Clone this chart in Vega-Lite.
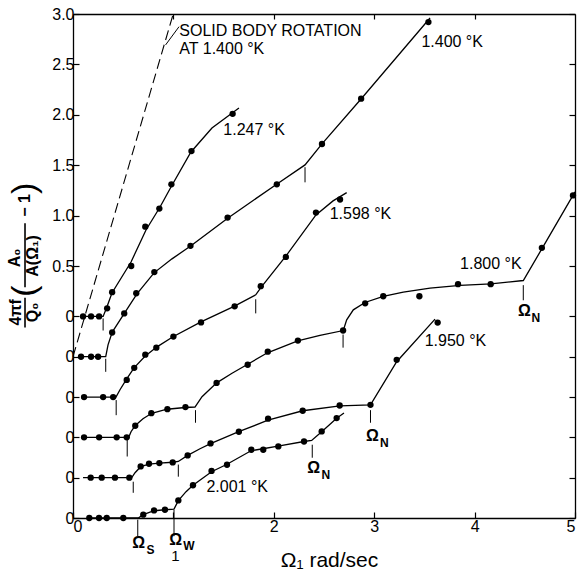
{
  "$schema": "https://vega.github.io/schema/vega-lite/v6.json",
  "width": 502,
  "height": 504,
  "autosize": {"type": "none"},
  "padding": {"left": 73, "top": 14, "right": 4, "bottom": 60},
  "background": "white",
  "config": {"view": {"stroke": null}, "font": "Liberation Sans"},
  "datasets": {
    "pts": [
      {"s": "1.247", "x": 0.10, "y": 2.0}, {"s": "1.247", "x": 0.18, "y": 2.0}, {"s": "1.247", "x": 0.26, "y": 2.0},
      {"s": "1.247", "x": 0.34, "y": 2.08}, {"s": "1.247", "x": 0.39, "y": 2.24}, {"s": "1.247", "x": 0.58, "y": 2.50},
      {"s": "1.247", "x": 0.72, "y": 2.89}, {"s": "1.247", "x": 0.86, "y": 3.07}, {"s": "1.247", "x": 0.98, "y": 3.31},
      {"s": "1.247", "x": 1.18, "y": 3.64}, {"s": "1.247", "x": 1.59, "y": 4.01},
      {"s": "1.400", "x": 0.08, "y": 1.6}, {"s": "1.400", "x": 0.18, "y": 1.6}, {"s": "1.400", "x": 0.25, "y": 1.6},
      {"s": "1.400", "x": 0.39, "y": 1.84}, {"s": "1.400", "x": 0.51, "y": 2.03}, {"s": "1.400", "x": 0.63, "y": 2.23},
      {"s": "1.400", "x": 0.81, "y": 2.44}, {"s": "1.400", "x": 1.17, "y": 2.70}, {"s": "1.400", "x": 1.54, "y": 2.98},
      {"s": "1.400", "x": 2.03, "y": 3.31}, {"s": "1.400", "x": 2.48, "y": 3.71}, {"s": "1.400", "x": 2.87, "y": 4.16},
      {"s": "1.400", "x": 3.54, "y": 4.92},
      {"s": "1.598", "x": 0.11, "y": 1.2}, {"s": "1.598", "x": 0.30, "y": 1.2}, {"s": "1.598", "x": 0.40, "y": 1.2},
      {"s": "1.598", "x": 0.535, "y": 1.37}, {"s": "1.598", "x": 0.61, "y": 1.49}, {"s": "1.598", "x": 0.72, "y": 1.62},
      {"s": "1.598", "x": 0.83, "y": 1.69}, {"s": "1.598", "x": 1.00, "y": 1.80}, {"s": "1.598", "x": 1.275, "y": 1.94},
      {"s": "1.598", "x": 1.61, "y": 2.10}, {"s": "1.598", "x": 1.87, "y": 2.30}, {"s": "1.598", "x": 2.12, "y": 2.59},
      {"s": "1.598", "x": 2.42, "y": 3.03}, {"s": "1.598", "x": 2.66, "y": 3.16},
      {"s": "1.800", "x": 0.11, "y": 0.8}, {"s": "1.800", "x": 0.26, "y": 0.8}, {"s": "1.800", "x": 0.435, "y": 0.8},
      {"s": "1.800", "x": 0.535, "y": 0.8}, {"s": "1.800", "x": 0.62, "y": 0.915}, {"s": "1.800", "x": 0.78, "y": 1.04},
      {"s": "1.800", "x": 0.94, "y": 1.08}, {"s": "1.800", "x": 1.12, "y": 1.10}, {"s": "1.800", "x": 1.43, "y": 1.34},
      {"s": "1.800", "x": 1.74, "y": 1.52}, {"s": "1.800", "x": 1.94, "y": 1.65}, {"s": "1.800", "x": 2.24, "y": 1.76},
      {"s": "1.800", "x": 2.69, "y": 1.86}, {"s": "1.800", "x": 2.91, "y": 2.13}, {"s": "1.800", "x": 3.09, "y": 2.20},
      {"s": "1.800", "x": 3.45, "y": 2.20}, {"s": "1.800", "x": 3.835, "y": 2.32}, {"s": "1.800", "x": 4.16, "y": 2.32},
      {"s": "1.800", "x": 4.67, "y": 2.68}, {"s": "1.800", "x": 4.98, "y": 3.20},
      {"s": "1.950", "x": 0.176, "y": 0.4}, {"s": "1.950", "x": 0.286, "y": 0.4}, {"s": "1.950", "x": 0.418, "y": 0.4},
      {"s": "1.950", "x": 0.561, "y": 0.4}, {"s": "1.950", "x": 0.674, "y": 0.512}, {"s": "1.950", "x": 0.757, "y": 0.538},
      {"s": "1.950", "x": 0.86, "y": 0.545}, {"s": "1.950", "x": 0.993, "y": 0.551}, {"s": "1.950", "x": 1.142, "y": 0.621},
      {"s": "1.950", "x": 1.37, "y": 0.74}, {"s": "1.950", "x": 1.652, "y": 0.856}, {"s": "1.950", "x": 1.943, "y": 0.985},
      {"s": "1.950", "x": 2.288, "y": 1.064}, {"s": "1.950", "x": 2.656, "y": 1.116}, {"s": "1.950", "x": 2.963, "y": 1.123},
      {"s": "1.950", "x": 3.224, "y": 1.569}, {"s": "1.950", "x": 3.632, "y": 1.939},
      {"s": "2.001", "x": 0.162, "y": 0}, {"s": "2.001", "x": 0.259, "y": 0}, {"s": "2.001", "x": 0.336, "y": 0},
      {"s": "2.001", "x": 0.501, "y": 0}, {"s": "2.001", "x": 0.70, "y": 0.033}, {"s": "2.001", "x": 0.807, "y": 0.075},
      {"s": "2.001", "x": 0.916, "y": 0.082}, {"s": "2.001", "x": 1.049, "y": 0.174}, {"s": "2.001", "x": 1.195, "y": 0.325},
      {"s": "2.001", "x": 1.38, "y": 0.467}, {"s": "2.001", "x": 1.534, "y": 0.528}, {"s": "2.001", "x": 1.776, "y": 0.677},
      {"s": "2.001", "x": 1.895, "y": 0.677}, {"s": "2.001", "x": 2.045, "y": 0.71}, {"s": "2.001", "x": 2.301, "y": 0.759},
      {"s": "2.001", "x": 2.477, "y": 0.859}, {"s": "2.001", "x": 2.626, "y": 0.991}
    ],
    "curves": [
      {"s": "1.247", "x": 0.10, "y": 2.0}, {"s": "1.247", "x": 0.30, "y": 2.0}, {"s": "1.247", "x": 0.334, "y": 2.083},
      {"s": "1.247", "x": 0.388, "y": 2.232}, {"s": "1.247", "x": 0.578, "y": 2.54}, {"s": "1.247", "x": 0.727, "y": 2.857},
      {"s": "1.247", "x": 0.867, "y": 3.085}, {"s": "1.247", "x": 0.976, "y": 3.284}, {"s": "1.247", "x": 1.175, "y": 3.631},
      {"s": "1.247", "x": 1.384, "y": 3.869}, {"s": "1.247", "x": 1.653, "y": 4.067},
      {"s": "1.400", "x": 0.08, "y": 1.6}, {"s": "1.400", "x": 0.326, "y": 1.6}, {"s": "1.400", "x": 0.349, "y": 1.718},
      {"s": "1.400", "x": 0.391, "y": 1.844}, {"s": "1.400", "x": 0.511, "y": 2.031}, {"s": "1.400", "x": 0.637, "y": 2.224},
      {"s": "1.400", "x": 0.807, "y": 2.432}, {"s": "1.400", "x": 0.986, "y": 2.571}, {"s": "1.400", "x": 1.175, "y": 2.70},
      {"s": "1.400", "x": 1.544, "y": 2.977}, {"s": "1.400", "x": 2.032, "y": 3.314}, {"s": "1.400", "x": 2.311, "y": 3.503},
      {"s": "1.400", "x": 2.48, "y": 3.711}, {"s": "1.400", "x": 2.869, "y": 4.157}, {"s": "1.400", "x": 3.556, "y": 4.96},
      {"s": "1.598", "x": 0.11, "y": 1.2}, {"s": "1.598", "x": 0.428, "y": 1.2}, {"s": "1.598", "x": 0.468, "y": 1.272},
      {"s": "1.598", "x": 0.535, "y": 1.381}, {"s": "1.598", "x": 0.608, "y": 1.49}, {"s": "1.598", "x": 0.717, "y": 1.604},
      {"s": "1.598", "x": 0.837, "y": 1.698}, {"s": "1.598", "x": 0.996, "y": 1.798}, {"s": "1.598", "x": 1.275, "y": 1.946},
      {"s": "1.598", "x": 1.604, "y": 2.10}, {"s": "1.598", "x": 1.82, "y": 2.214}, {"s": "1.598", "x": 1.873, "y": 2.288},
      {"s": "1.598", "x": 2.122, "y": 2.601}, {"s": "1.598", "x": 2.42, "y": 3.007}, {"s": "1.598", "x": 2.59, "y": 3.146},
      {"s": "1.598", "x": 2.726, "y": 3.228},
      {"s": "1.800", "x": 0.11, "y": 0.8}, {"s": "1.800", "x": 0.555, "y": 0.8}, {"s": "1.800", "x": 0.578, "y": 0.856},
      {"s": "1.800", "x": 0.618, "y": 0.915}, {"s": "1.800", "x": 0.697, "y": 0.985}, {"s": "1.800", "x": 0.784, "y": 1.039},
      {"s": "1.800", "x": 0.936, "y": 1.079}, {"s": "1.800", "x": 1.116, "y": 1.096}, {"s": "1.800", "x": 1.215, "y": 1.101},
      {"s": "1.800", "x": 1.285, "y": 1.203}, {"s": "1.800", "x": 1.431, "y": 1.341}, {"s": "1.800", "x": 1.584, "y": 1.436},
      {"s": "1.800", "x": 1.74, "y": 1.525}, {"s": "1.800", "x": 1.937, "y": 1.639}, {"s": "1.800", "x": 2.238, "y": 1.758},
      {"s": "1.800", "x": 2.46, "y": 1.812}, {"s": "1.800", "x": 2.692, "y": 1.86}, {"s": "1.800", "x": 2.726, "y": 1.966},
      {"s": "1.800", "x": 2.792, "y": 2.065}, {"s": "1.800", "x": 2.908, "y": 2.138}, {"s": "1.800", "x": 3.09, "y": 2.199},
      {"s": "1.800", "x": 3.29, "y": 2.241}, {"s": "1.800", "x": 3.556, "y": 2.28}, {"s": "1.800", "x": 3.855, "y": 2.308},
      {"s": "1.800", "x": 4.163, "y": 2.323}, {"s": "1.800", "x": 4.485, "y": 2.356}, {"s": "1.800", "x": 4.674, "y": 2.677},
      {"s": "1.800", "x": 5.0, "y": 3.235},
      {"s": "1.950", "x": 0.10, "y": 0.4}, {"s": "1.950", "x": 0.585, "y": 0.4}, {"s": "1.950", "x": 0.618, "y": 0.449},
      {"s": "1.950", "x": 0.674, "y": 0.509}, {"s": "1.950", "x": 0.757, "y": 0.535}, {"s": "1.950", "x": 0.86, "y": 0.545},
      {"s": "1.950", "x": 0.993, "y": 0.553}, {"s": "1.950", "x": 1.049, "y": 0.561}, {"s": "1.950", "x": 1.142, "y": 0.621},
      {"s": "1.950", "x": 1.265, "y": 0.687}, {"s": "1.950", "x": 1.37, "y": 0.737}, {"s": "1.950", "x": 1.651, "y": 0.856},
      {"s": "1.950", "x": 1.942, "y": 0.97}, {"s": "1.950", "x": 2.288, "y": 1.064}, {"s": "1.950", "x": 2.659, "y": 1.113},
      {"s": "1.950", "x": 2.963, "y": 1.123}, {"s": "1.950", "x": 3.224, "y": 1.55}, {"s": "1.950", "x": 3.606, "y": 1.973},
      {"s": "2.001", "x": 0.159, "y": 0}, {"s": "2.001", "x": 0.65, "y": 0}, {"s": "2.001", "x": 0.70, "y": 0.033},
      {"s": "2.001", "x": 0.807, "y": 0.072}, {"s": "2.001", "x": 0.916, "y": 0.082}, {"s": "2.001", "x": 1.006, "y": 0.089},
      {"s": "2.001", "x": 1.049, "y": 0.172}, {"s": "2.001", "x": 1.126, "y": 0.261}, {"s": "2.001", "x": 1.195, "y": 0.325},
      {"s": "2.001", "x": 1.38, "y": 0.459}, {"s": "2.001", "x": 1.534, "y": 0.533}, {"s": "2.001", "x": 1.773, "y": 0.667},
      {"s": "2.001", "x": 1.892, "y": 0.687}, {"s": "2.001", "x": 2.042, "y": 0.712}, {"s": "2.001", "x": 2.301, "y": 0.759},
      {"s": "2.001", "x": 2.377, "y": 0.769}, {"s": "2.001", "x": 2.477, "y": 0.856}, {"s": "2.001", "x": 2.626, "y": 0.989},
      {"s": "2.001", "x": 2.699, "y": 1.041}
    ],
    "crit": [
      {"x": 0.30, "y": 1.98, "y2": 1.86},
      {"x": 0.326, "y": 1.58, "y2": 1.45}, {"x": 2.311, "y": 3.48, "y2": 3.33},
      {"x": 0.43, "y": 1.17, "y2": 1.02}, {"x": 1.82, "y": 2.17, "y2": 2.03},
      {"x": 0.54, "y": 0.78, "y2": 0.61}, {"x": 1.22, "y": 1.07, "y2": 0.945}, {"x": 2.69, "y": 1.82, "y2": 1.69}, {"x": 4.485, "y": 2.31, "y2": 2.16},
      {"x": 0.60, "y": 0.36, "y2": 0.25}, {"x": 1.049, "y": 0.53, "y2": 0.41}, {"x": 2.963, "y": 1.07, "y2": 0.945},
      {"x": 0.645, "y": -0.017, "y2": -0.18}, {"x": 1.006, "y": 0.08, "y2": -0.18}, {"x": 2.383, "y": 0.727, "y2": 0.598}
    ],
    "dashed": [{"x": 0.0, "y": 1.6}, {"x": 0.995, "y": 4.99}],
    "leader": [{"x": 1.056, "y": 4.874, "x2": 0.922, "y2": 4.693}],
    "labels": [
      {"x": 1.059, "y": 4.831, "t": "SOLID BODY ROTATION"},
      {"x": 1.059, "y": 4.657, "t": "AT 1.400 °K"},
      {"x": 1.497, "y": 3.85, "t": "1.247 °K"},
      {"x": 3.47, "y": 4.725, "t": "1.400 °K"},
      {"x": 2.557, "y": 3.017, "t": "1.598 °K"},
      {"x": 3.855, "y": 2.521, "t": "1.800 °K"},
      {"x": 3.503, "y": 1.751, "t": "1.950 °K"},
      {"x": 1.329, "y": 0.307, "t": "2.001 °K"}
    ],
    "omega": [
      {"x": 4.497, "y": 2.049, "t": "Ω"}, {"x": 2.983, "y": 0.809, "t": "Ω"}, {"x": 2.397, "y": 0.499, "t": "Ω"},
      {"x": 0.654, "y": -0.245, "t": "Ω"}, {"x": 1.023, "y": -0.215, "t": "Ω"}
    ],
    "xone": [{"x": 1.021, "y": -0.38, "t": "1"}],
    "subs": [
      {"x": 4.566, "y": 1.986, "t": "N"}, {"x": 3.058, "y": 0.747, "t": "N"}, {"x": 2.474, "y": 0.429, "t": "N"},
      {"x": 0.731, "y": -0.314, "t": "S"}, {"x": 1.099, "y": -0.281, "t": "W"}
    ],
    "ytitle": [
      {"x": -0.568, "y": 2.04, "t": "4πf"}, {"x": -0.398, "y": 2.04, "t": "Q₀"},
      {"x": -0.578, "y": 2.58, "t": "A₀"}, {"x": -0.398, "y": 2.6, "t": "A(Ω₁)"},
      {"x": -0.478, "y": 3.1, "t": "− 1"}
    ],
    "yparen": [{"x": -0.478, "y": 2.25, "t": "("}, {"x": -0.478, "y": 3.27, "t": ")"}],
    "ybars": [{"x": -0.478, "y": 2.185, "y2": 1.89}, {"x": -0.478, "y": 2.925, "y2": 2.29}]
  },
  "encoding": {
    "x": {"field": "x", "type": "quantitative", "scale": {"domain": [0, 5], "nice": false, "zero": false}, "axis": null},
    "y": {"field": "y", "type": "quantitative", "scale": {"domain": [0, 5], "nice": false, "zero": false}, "axis": null}
  },
  "layer": [
    {
      "data": {"name": "dashed"},
      "mark": {"type": "line", "color": "black", "strokeWidth": 1.1, "strokeDash": [10, 5]}
    },
    {
      "data": {"name": "leader"},
      "mark": {"type": "rule", "color": "black", "strokeWidth": 1},
      "encoding": {"x2": {"field": "x2"}, "y2": {"field": "y2"}}
    },
    {
      "data": {"name": "curves"},
      "mark": {"type": "line", "color": "black", "strokeWidth": 1.3},
      "encoding": {
        "detail": {"field": "s"},
        "x": {"field": "x", "type": "quantitative", "scale": {"domain": [0, 5], "nice": false, "zero": false},
          "axis": {"orient": "top", "values": [1, 2, 3, 4], "labels": false, "tickSize": -5, "tickColor": "black", "tickWidth": 1.2, "domainColor": "black", "domainWidth": 1.3, "grid": false, "title": null}},
        "y": {"field": "y", "type": "quantitative", "scale": {"domain": [0, 5], "nice": false, "zero": false},
          "axis": {"orient": "right", "values": [0, 0.4, 0.8, 1.2, 1.6, 2, 2.5, 3, 3.5, 4, 4.5, 5], "labels": false, "tickSize": -6, "tickColor": "black", "tickWidth": 1.2, "domainColor": "black", "domainWidth": 1.3, "grid": false, "title": null}}
      }
    },
    {
      "data": {"name": "crit"},
      "mark": {"type": "rule", "color": "black", "strokeWidth": 1},
      "encoding": {"y2": {"field": "y2"}}
    },
    {
      "data": {"name": "pts"},
      "mark": {"type": "circle", "color": "black", "opacity": 1, "size": 40},
      "encoding": {
        "x": {"field": "x", "type": "quantitative", "scale": {"domain": [0, 5], "nice": false, "zero": false},
          "axis": {"orient": "bottom", "values": [0, 1, 2, 3, 4, 5], "format": "d", "labelExpr": "datum.value == 1 ? '' : datum.label", "tickSize": -6, "labelPadding": 6, "labelFontSize": 16, "labelFont": "Liberation Sans", "labelColor": "black", "tickColor": "black", "tickWidth": 1.2, "domainColor": "black", "domainWidth": 1.3, "grid": false,
            "title": "Ω₁   rad/sec", "titleFont": "Liberation Sans", "titleFontSize": 21, "titleFontWeight": "normal", "titleColor": "black", "titlePadding": 15, "titleX": 256}},
        "y": {"field": "y", "type": "quantitative", "scale": {"domain": [0, 5], "nice": false, "zero": false},
          "axis": {"orient": "left", "values": [0, 0.4, 0.8, 1.2, 1.6, 2, 2.5, 3, 3.5, 4, 4.5, 5], "labelExpr": "datum.value >= 2.4 ? format(datum.value - 2, '.1f') : '0'", "tickSize": -6, "labelPadding": 5, "labelFontSize": 16, "labelFont": "Liberation Sans", "labelColor": "black", "tickColor": "black", "tickWidth": 1.2, "domainColor": "black", "domainWidth": 1.3, "grid": false, "title": null}}
      }
    },
    {
      "data": {"name": "labels"},
      "mark": {"type": "text", "align": "left", "baseline": "middle", "fontSize": 16, "font": "Liberation Sans", "color": "black"},
      "encoding": {"text": {"field": "t"}}
    },
    {
      "data": {"name": "omega"},
      "mark": {"type": "text", "align": "center", "baseline": "middle", "fontSize": 16, "fontWeight": "bold", "font": "Liberation Sans", "color": "black"},
      "encoding": {"text": {"field": "t"}}
    },
    {
      "data": {"name": "xone"},
      "mark": {"type": "text", "align": "center", "baseline": "middle", "fontSize": 15, "font": "Liberation Sans", "color": "black"},
      "encoding": {"text": {"field": "t"}}
    },
    {
      "data": {"name": "subs"},
      "mark": {"type": "text", "align": "left", "baseline": "middle", "fontSize": 12, "fontWeight": "bold", "font": "Liberation Sans", "color": "black"},
      "encoding": {"text": {"field": "t"}}
    },
    {
      "data": {"name": "ytitle"},
      "mark": {"type": "text", "align": "center", "baseline": "middle", "angle": 270, "fontSize": 16, "fontWeight": "bold", "font": "Liberation Sans", "color": "black"},
      "encoding": {"text": {"field": "t"}}
    },
    {
      "data": {"name": "yparen"},
      "mark": {"type": "text", "align": "center", "baseline": "middle", "angle": 270, "fontSize": 34, "font": "Liberation Sans", "color": "black"},
      "encoding": {"text": {"field": "t"}}
    },
    {
      "data": {"name": "ybars"},
      "mark": {"type": "rule", "color": "black", "strokeWidth": 1.6},
      "encoding": {"y2": {"field": "y2"}}
    }
  ],
  "resolve": {"axis": {"x": "independent", "y": "independent"}}
}
